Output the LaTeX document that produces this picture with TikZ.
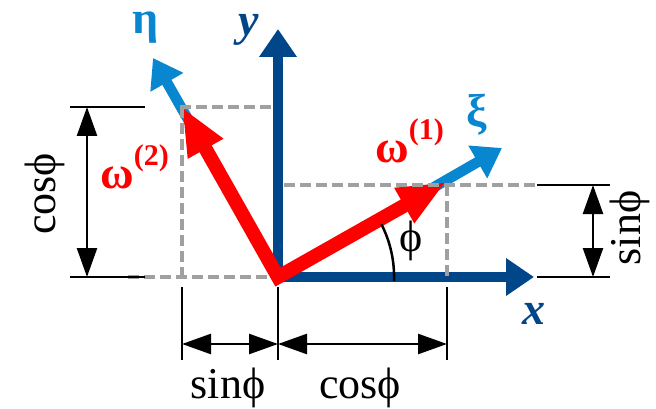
\documentclass[tikz,border=0pt]{standalone}
\usepackage{fontspec}
\setmainfont{Liberation Serif}
\usetikzlibrary{arrows.meta}
\definecolor{axisblue}{RGB}{0,70,137}
\definecolor{rotblue}{RGB}{8,134,208}
\definecolor{dashgray}{RGB}{160,160,160}
\tikzset{
  axis/.style={draw=axisblue, line width=10.5pt, line join=miter,
    {Triangle[length=28pt,width=36pt]}-{Triangle[length=28pt,width=36pt]}},
  rotaxis/.style={draw=rotblue, line width=10.5pt, line join=miter,
    {Triangle[length=28pt,width=36pt]}-{Triangle[length=28pt,width=36pt]}},
  vecarrow/.style={draw=red, line width=14pt, line join=miter,
    {Triangle[length=48pt,width=37pt]}-{Triangle[length=48pt,width=37pt]}},
  guide/.style={draw=dashgray, line width=4pt, dash pattern=on 11pt off 5pt},
  extline/.style={line width=2.5pt},
  dimarrow/.style={line width=2.5pt,
    {Triangle[length=29pt,width=20pt]}-{Triangle[length=29pt,width=20pt]}},
  lbl/.style={font=\fontsize{44}{48}\selectfont, inner sep=0pt},
  greek/.style={font=\fontsize{46}{50}\selectfont\bfseries, inner sep=0pt},
}
\begin{document}
\begin{tikzpicture}[x=1pt, y=-1pt]
  \useasboundingbox (0,0) rectangle (656,409);
  % origin and tips
  \coordinate (O) at (278,277);
  \coordinate (xtip) at (534,277);
  \coordinate (ytip) at (278,29);
  \coordinate (xitip) at (502,148);
  \coordinate (etatip) at (153,58);
  \coordinate (w1) at (446,182);
  \coordinate (w2) at (182,107);
  % fixed axes x, y
  \draw[axis] (ytip) -- (O) -- (xtip);
  % rotated axes xi, eta
  \draw[rotaxis] (etatip) -- (O) -- (xitip);
  % vectors omega(1), omega(2)
  \draw[vecarrow] (w2) -- (O) -- (w1);
  % dashed projections
  \draw[guide] (180,107) -- (273,107);
  \draw[guide] (182,107) -- (182,277);
  \draw[guide] (128,277) -- (270,277);
  \draw[guide] (284,185) -- (535,185);
  \draw[guide] (447,185) -- (447,277);
  % angle phi
  \draw[extline] (394,281) arc[start angle=-2, end angle=27, radius=116pt];
  \node[lbl] (phi) at (411,241) {ϕ};
  % left dimension cos
  \draw[extline] (70,107) -- (145,107);
  \draw[extline] (70,277) -- (145,277);
  \draw[dimarrow] (87,107) -- (87,277);
  \node[lbl, rotate=90] (cosleft) at (45,194) {cosϕ};
  % right dimension sin
  \draw[extline] (537,185) -- (610,185);
  \draw[extline] (537,277) -- (610,277);
  \draw[dimarrow] (593,185) -- (593,277);
  \node[lbl, rotate=90] (sinright) at (630,228) {sinϕ};
  % bottom dimensions
  \draw[extline] (182,287) -- (182,360);
  \draw[extline] (278,287) -- (278,360);
  \draw[extline] (447,287) -- (447,360);
  \draw[dimarrow] (182,344) -- (278,344);
  \draw[dimarrow] (278,344) -- (447,344);
  \node[lbl] (sinbottom) at (228,388) {sinϕ};
  \node[lbl] (cosbottom) at (360,388) {cosϕ};
  % axis labels
  \node[greek, text=rotblue] (eta) at (146,28) {η};
  \node[greek, text=rotblue] (xi) at (477,115) {ξ};
  \node[greek, text=axisblue] (ylab) at (249,30) {\itshape y};
  \node[greek, text=axisblue] (xlab) at (534,314) {\itshape x};
  % vector labels
  \node[greek, text=red, anchor=base west] (om2) at (100,188)
    {ω\raisebox{0.5em}{\fontsize{30}{32}\selectfont(2)}};
  \node[greek, text=red, anchor=base west] (om1) at (375,163)
    {ω\raisebox{0.5em}{\fontsize{30}{32}\selectfont(1)}};
\end{tikzpicture}
\end{document}
